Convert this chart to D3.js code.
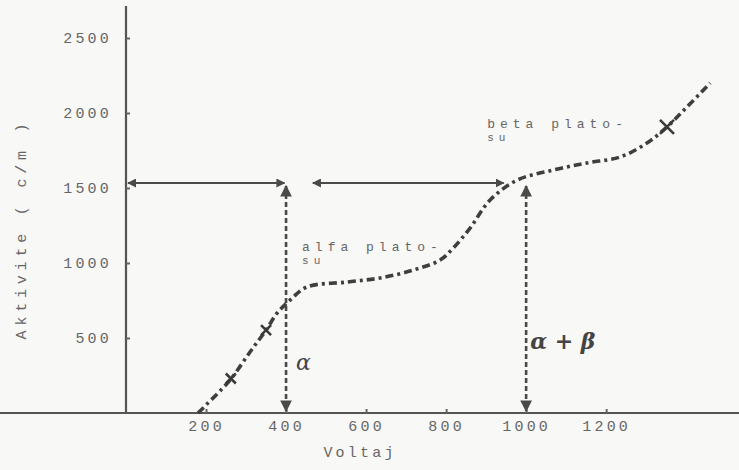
<!DOCTYPE html>
<html>
<head>
<meta charset="utf-8">
<script src="https://cdn.jsdelivr.net/npm/d3@7"></script>
<style>
  html, body { margin: 0; padding: 0; background: #f8f8f6; }
  svg { display: block; }
  .mono { font-family: "Liberation Mono", "DejaVu Sans Mono", monospace; fill: #666; }
</style>
</head>
<body>
<svg id="chart" width="739" height="470"></svg>
<script>
// Plateau curve of a G-M counter: count rate versus applied voltage
const voltage = [180, 200, 260, 310, 350, 378, 410, 452, 552, 635, 718, 785, 818, 860, 910, 978, 1068, 1152, 1235, 1302, 1352, 1402, 1460];
const counts  = [0, 53, 220, 407, 553, 667, 753, 840, 873, 900, 953, 1020, 1100, 1233, 1420, 1553, 1620, 1667, 1707, 1800, 1907, 2040, 2200];

// measurement points marked with a cross
const markV = [262, 350, 1352];
const markC = [230, 553, 1907];

const xTicks = [200, 400, 600, 800, 1000, 1200];
const yTicks = [500, 1000, 1500, 2000, 2500];

// plateau reading: alpha plateau at 400 V, alpha+beta plateau at 1000 V, level 1500 c/m
const plateauV = [400, 1000];
const levelC = 1500;

const svg = d3.select("#chart");
const ink = "#4a4a4a";

const x = d3.scaleLinear().domain([0, 1532]).range([126, 739]);
const y = d3.scaleLinear().domain([0, 2500]).range([413, 38]);

// arrowhead marker
const defs = svg.append("defs");
defs.append("marker")
  .attr("id", "arrow")
  .attr("viewBox", "0 0 10 10")
  .attr("refX", 9).attr("refY", 5)
  .attr("markerWidth", 4.5).attr("markerHeight", 4.5)
  .attr("orient", "auto-start-reverse")
  .append("path").attr("d", "M0,0 L10,5 L0,10 Z").attr("fill", ink);

// axes
const xAxis = d3.axisBottom(x).tickValues(xTicks).tickSize(-4).tickPadding(7).tickFormat(d3.format("d"));
const yAxis = d3.axisLeft(y).tickValues(yTicks).tickSize(-4).tickPadding(14).tickFormat(d3.format("d"));

const gx = svg.append("g").attr("transform", `translate(0,${y(0)})`).call(xAxis);
const gy = svg.append("g").attr("transform", `translate(${x(0)},0)`).call(yAxis);

[gx, gy].forEach(g => {
  g.select(".domain").attr("stroke", "#555").attr("stroke-width", 2.2);
  g.selectAll(".tick line").attr("stroke", "#666").attr("stroke-width", 2);
  g.selectAll(".tick text")
    .attr("class", "mono")
    .attr("font-size", 15)
    .attr("letter-spacing", 3.2)
    .attr("fill", "#666");
});
gy.select(".domain").attr("d", `M0,${y(0)}V6`);
gx.select(".domain").attr("d", `M0,0H739`);

// axis titles
svg.append("text")
  .attr("class", "mono")
  .attr("transform", `translate(26,229) rotate(-90)`)
  .attr("text-anchor", "middle")
  .attr("font-size", 15)
  .attr("letter-spacing", 4.8)
  .text("Aktivite ( c/m )");

svg.append("text")
  .attr("class", "mono")
  .attr("x", 360).attr("y", 457)
  .attr("text-anchor", "middle")
  .attr("font-size", 15)
  .attr("letter-spacing", 3.2)
  .text("Voltaj");

// horizontal arrows at the reading level
const hArrows = [[0, 396], [462, 944]];
svg.selectAll(".harrow").data(hArrows).join("line")
  .attr("class", "harrow")
  .attr("x1", d => x(d[0]) + 2).attr("x2", d => x(d[1]))
  .attr("y1", y(levelC) - 5).attr("y2", y(levelC) - 5)
  .attr("stroke", ink).attr("stroke-width", 2)
  .attr("marker-start", "url(#arrow)")
  .attr("marker-end", "url(#arrow)");

// vertical dashed lines from the level down to the voltage axis
svg.selectAll(".varrow").data(plateauV).join("line")
  .attr("class", "varrow")
  .attr("x1", d => x(d)).attr("x2", d => x(d))
  .attr("y1", y(levelC) - 2).attr("y2", y(0) - 2)
  .attr("stroke", ink).attr("stroke-width", 2.6)
  .attr("stroke-dasharray", "5,3")
  .attr("marker-start", "url(#arrow)")
  .attr("marker-end", "url(#arrow)");

// the plateau curve, drawn dash-dot
const pts = voltage.map((v, i) => [v, counts[i]]);
const line = d3.line().x(d => x(d[0])).y(d => y(d[1])).curve(d3.curveCatmullRom.alpha(0.5));

svg.append("path")
  .datum(pts)
  .attr("d", line)
  .attr("fill", "none")
  .attr("stroke", "#3f3f3f")
  .attr("stroke-width", 3.6)
  .attr("stroke-linecap", "butt")
  .attr("stroke-dasharray", "8,4,3,4");

// crosses at marked points
const cross = svg.selectAll(".cross").data(markV.map((v, i) => [v, markC[i]])).join("g")
  .attr("class", "cross")
  .attr("transform", d => `translate(${x(d[0])},${y(d[1])})`);
cross.append("path")
  .attr("d", (d, i) => { const s = i === 2 ? 7 : 5; return `M${-s},${-s}L${s},${s}M${-s},${s}L${s},${-s}`; })
  .attr("stroke", "#3a3a3a").attr("stroke-width", 2.6).attr("fill", "none");

// plateau annotations
const notes = [
  { v: plateauV[0], c: 1080, dx: 16, lines: ["alfa plato-", "su"] },
  { v: plateauV[1], c: 1900, dx: -39, lines: ["beta plato-", "su"] }
];
notes.forEach(n => {
  const t = svg.append("text")
    .attr("class", "mono")
    .attr("font-size", 13)
    .attr("letter-spacing", 5)
    .attr("fill", "#6e6e6e");
  n.lines.forEach((s, i) => {
    t.append("tspan")
      .attr("x", x(n.v) + n.dx)
      .attr("y", y(n.c) + i * 13)
      .attr("font-size", i === 0 ? 13 : 11)
      .text(s);
  });
});

// greek labels
svg.append("text")
  .attr("x", x(plateauV[0]) + 10).attr("y", 370)
  .attr("font-family", "DejaVu Serif, serif").attr("font-style", "italic")
  .attr("font-size", 22).attr("fill", "#444")
  .text("α");

svg.append("text")
  .attr("x", x(plateauV[1]) + 4).attr("y", 349)
  .attr("font-family", "DejaVu Serif, serif").attr("font-style", "italic")
  .attr("font-weight", "bold")
  .attr("font-size", 22).attr("fill", "#444")
  .text("α + β");
</script>
</body>
</html>
